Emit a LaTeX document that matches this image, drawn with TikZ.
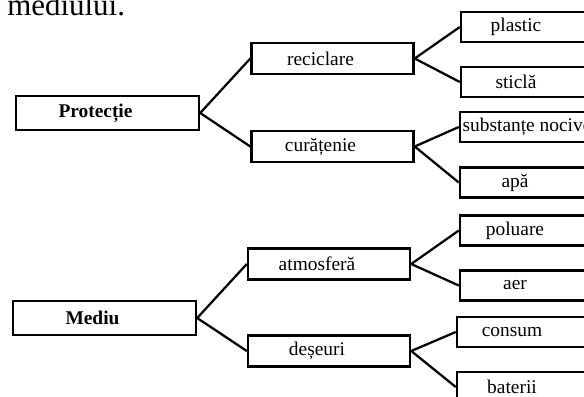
\documentclass[tikz,border=0pt]{standalone}
\usepackage{fontspec}
\setmainfont{Liberation Serif}
\usetikzlibrary{positioning}

\begin{document}
\begin{tikzpicture}[
  x=0.025cm, y=-0.025cm,
  box/.style={rectangle, draw, line width=1.7pt, inner xsep=0pt, font=\fontsize{13.8}{16}\selectfont},
  txt/.style={execute at end node={\hspace{6mm}}},
  rootbox/.style={box, txt, minimum width=4.575cm, minimum height=0.85cm, font=\fontsize{13.8}{16}\selectfont\bfseries},
  midbox/.style={box, txt, minimum width=4.05cm, minimum height=0.78cm},
  leafbox/.style={box, minimum width=3.35cm, minimum height=0.75cm},
  conn/.style={line width=1.6pt}
]
  \useasboundingbox (0,0) rectangle (584,396);

  \node[anchor=base west, inner sep=0pt, font=\fontsize{22}{26}\selectfont] (title) at (7,15) {mediului.};

  \node[rootbox] (prot) at (107.5,113) {Protecție};
  \node[midbox] (recic) at (332.5,58.5) {reciclare};
  \node[midbox] (curat) at (332.5,146.5) {curățenie};
  \node[leafbox, txt] (plastic) at (528,27) {plastic};
  \node[leafbox, txt] (sticla) at (528,82) {sticlă};
  \node[leafbox] (subst) at (527,127) {substanțe nocive};
  \node[leafbox, txt] (apa) at (527,182.5) {apă};

  \node[rootbox] (mediu) at (104.5,318) {Mediu};
  \node[midbox] (atmos) at (329,264) {atmosferă};
  \node[midbox] (deseuri) at (329,351) {deșeuri};
  \node[leafbox, txt] (poluare) at (527,230.5) {poluare};
  \node[leafbox, txt] (aer) at (527,285.5) {aer};
  \node[leafbox, txt] (consum) at (524,332) {consum};
  \node[leafbox, txt] (baterii) at (524,387) {baterii};

  \draw[conn] (recic.west) -- (prot.east) -- (curat.west);
  \draw[conn] (plastic.west) -- (recic.east) -- (sticla.west);
  \draw[conn] (subst.west) -- (curat.east) -- (apa.west);
  \draw[conn] (atmos.west) -- (mediu.east) -- (deseuri.west);
  \draw[conn] (poluare.west) -- (atmos.east) -- (aer.west);
  \draw[conn] (consum.west) -- (deseuri.east) -- (baterii.west);
\end{tikzpicture}
\end{document}
